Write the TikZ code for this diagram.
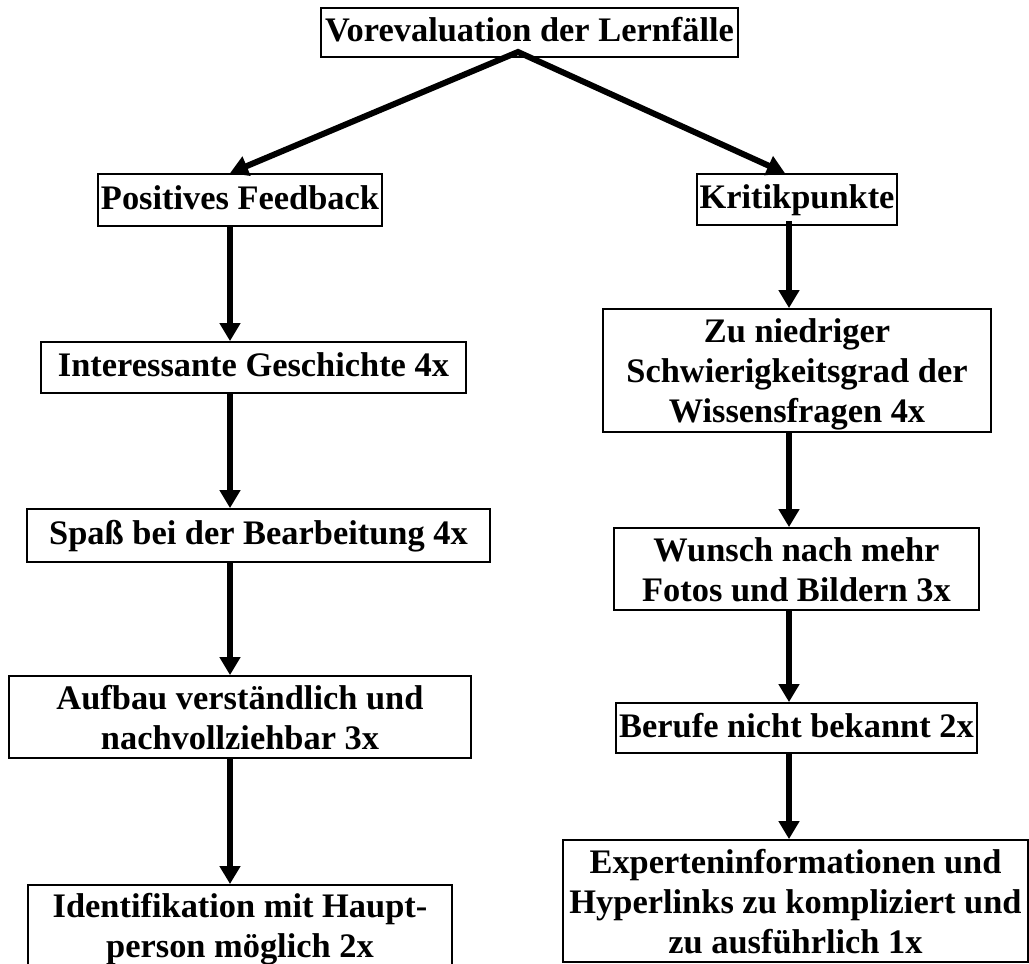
\documentclass[tikz,border=0pt]{standalone}
\usepackage{fontspec}
\setmainfont{Liberation Serif}
\usetikzlibrary{arrows.meta}
\newcommand\sst{\rule[-11pt]{0pt}{40pt}}
\newcommand\tst{\rule{0pt}{32.5pt}}
\newcommand\bst{\rule[-7.5pt]{0pt}{7.5pt}}
\begin{document}
\begin{tikzpicture}[x=1pt,y=-1pt,
  box/.style={draw, line width=1.8pt, inner sep=0pt, align=center,
    font=\bfseries\fontsize{34.4}{40}\selectfont},
  arr/.style={line width=6pt, -{Triangle[length=18pt,width=20pt]}},
  darr/.style={line width=6pt, line join=miter,
    {Triangle[length=18pt,width=20pt]}-{Triangle[length=18pt,width=20pt]}},
]
\useasboundingbox (0,0) rectangle (1029,964);
\clip (0,0) rectangle (1029,964);
\fill[white] (0,0) rectangle (1029,964);

% boxes
\node[box, minimum width=417pt, minimum height=49pt] (top) at (529.5,32.5) {\sst Vorevaluation der Lernfälle};
\node[box, minimum width=284pt, minimum height=52pt] (pos) at (240,200) {\sst Positives Feedback};
\node[box, minimum width=200pt, minimum height=51pt] (krit) at (797,199.5) {\sst Kritikpunkte};

\node[box, minimum width=425pt, minimum height=51pt] (int) at (253.5,367.5) {\sst Interessante Geschichte 4x};
\node[box, minimum width=463pt, minimum height=53pt] (spass) at (258.5,535.5) {\sst Spaß bei der Bearbeitung 4x};
\node[box, minimum width=462pt, minimum height=82pt] (aufbau) at (240,717) {\tst Aufbau verständlich und\\nachvollziehbar 3x\bst};
\node[box, minimum width=424pt, minimum height=80pt] (ident) at (240,925) {\tst Identifikation mit Haupt-\\person möglich 2x\bst};

\node[box, minimum width=388pt, minimum height=123pt] (zu) at (797,370.5) {\tst Zu niedriger\\Schwierigkeitsgrad der\\Wissensfragen 4x\bst};
\node[box, minimum width=365pt, minimum height=82pt] (wunsch) at (796.5,569) {\tst Wunsch nach mehr\\Fotos und Bildern 3x\bst};
\node[box, minimum width=361pt, minimum height=50pt] (berufe) at (796.5,728) {\sst Berufe nicht bekannt 2x};
\node[box, minimum width=465pt, minimum height=122pt] (exp) at (795.5,901) {\tst Experteninformationen und\\Hyperlinks zu kompliziert und\\zu ausführlich 1x\bst};

% axes and apex
\coordinate (apex) at (518,52);
\coordinate (axL) at (230,0);
\coordinate (axR) at (789,0);

% connectors
\draw[darr] ([xshift=-10pt]pos.north) -- (apex) -- ([xshift=-12pt]krit.north);

\draw[arr] (pos.south -| axL) -- (int.north -| axL);
\draw[arr] (int.south -| axL) -- (spass.north -| axL);
\draw[arr] (spass.south -| axL) -- (aufbau.north -| axL);
\draw[arr] (aufbau.south -| axL) -- (ident.north -| axL);

\draw[arr] ([yshift=5pt]krit.south -| axR) -- (zu.north -| axR);
\draw[arr] (zu.south -| axR) -- (wunsch.north -| axR);
\draw[arr] (wunsch.south -| axR) -- (berufe.north -| axR);
\draw[arr] (berufe.south -| axR) -- (exp.north -| axR);
\end{tikzpicture}
\end{document}
